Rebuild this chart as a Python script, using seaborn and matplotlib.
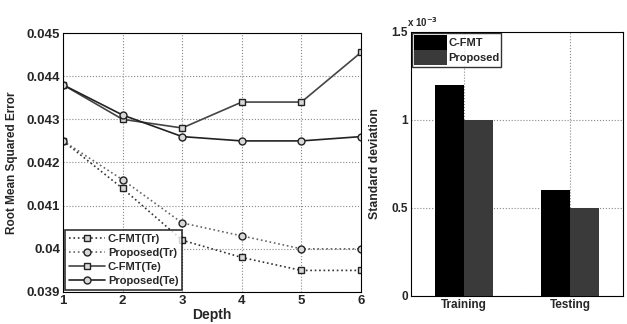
import matplotlib
matplotlib.use("Agg")
import matplotlib.pyplot as plt
import seaborn as sns
import pandas as pd
import numpy as np
from matplotlib.ticker import FuncFormatter

depth = [1, 2, 3, 4, 5, 6]
cfmt_tr = [0.0425, 0.0414, 0.0402, 0.0398, 0.0395, 0.0395]
prop_tr = [0.0425, 0.0416, 0.0406, 0.0403, 0.0400, 0.0400]
cfmt_te = [0.0438, 0.0430, 0.0428, 0.0434, 0.0434, 0.04455]
prop_te = [0.0438, 0.0431, 0.0426, 0.0425, 0.0425, 0.0426]

sets = ["Training", "Testing"]
std_cfmt = [1.2e-3, 0.6e-3]
std_prop = [1.0e-3, 0.5e-3]

sns.set_style("white")
plt.rcParams['font.family'] = ['Liberation Sans', 'DejaVu Sans']
plt.rcParams['font.weight'] = 'bold'

fig = plt.figure(figsize=(6.27, 3.24), dpi=100)
ax1 = fig.add_axes([63/627, 1 - 292/324, (361-63)/627, (292-33)/324])
ax2 = fig.add_axes([411/627, 1 - 296/324, (623-411)/627, (296-32)/324])

df = pd.DataFrame({
    "Depth": depth * 4,
    "RMSE": cfmt_tr + prop_tr + cfmt_te + prop_te,
    "Series": ["C-FMT(Tr)"] * 6 + ["Proposed(Tr)"] * 6 + ["C-FMT(Te)"] * 6 + ["Proposed(Te)"] * 6,
})
styles = {
    "C-FMT(Tr)": dict(ls=":", marker="s", color="#333333"),
    "Proposed(Tr)": dict(ls=":", marker="o", color="#666666"),
    "C-FMT(Te)": dict(ls="-", marker="s", color="#444444"),
    "Proposed(Te)": dict(ls="-", marker="o", color="#222222"),
}
for name, st in styles.items():
    sub = df[df.Series == name]
    sns.lineplot(data=sub, x="Depth", y="RMSE", ax=ax1, color=st["color"],
                 linestyle=st["ls"], marker=st["marker"], markersize=5,
                 markerfacecolor="#d8d8d8", markeredgecolor="#222222",
                 markeredgewidth=1.0, lw=1.2, label=name)
ax1.set_xlim(1, 6)
ax1.set_ylim(0.039, 0.045)
ax1.set_xticks(depth)
ax1.set_yticks([0.039, 0.040, 0.041, 0.042, 0.043, 0.044, 0.045])
ax1.yaxis.set_major_formatter(FuncFormatter(lambda v, p: f"{v:g}"))
ax1.grid(True, ls=":", color="#888888", lw=0.8)
ax1.set_xlabel("Depth", fontsize=10, fontweight="bold", labelpad=1)
ax1.set_ylabel("Root Mean Squared Error", fontsize=8.5, fontweight="bold", labelpad=6)
ax1.tick_params(labelsize=9.5, direction="in", length=3, pad=2)
leg = ax1.legend(loc="lower left", fontsize=8, frameon=True, fancybox=False,
                 edgecolor="black", handlelength=3.2, borderaxespad=0.2,
                 labelspacing=0.35, borderpad=0.35, handletextpad=0.3)
leg.get_frame().set_linewidth(1.2)
for s in ax1.spines.values():
    s.set_color("black")

df2 = pd.DataFrame({
    "Set": sets * 2,
    "Std": std_cfmt + std_prop,
    "Method": ["C-FMT"] * 2 + ["Proposed"] * 2,
})
sns.barplot(data=df2, x="Set", y="Std", hue="Method", ax=ax2,
            palette={"C-FMT": "#000000", "Proposed": "#3a3a3a"},
            width=0.55, saturation=1, edgecolor="none", zorder=3)
ax2.set_xlim(-0.5, 1.5)
ax2.set_ylim(0, 1.5e-3)
ax2.set_yticks([0, 0.5e-3, 1.0e-3, 1.5e-3])
ax2.yaxis.set_major_formatter(FuncFormatter(lambda v, p: f"{v*1e3:g}"))
ax2.grid(True, ls=":", color="#888888", lw=0.8, zorder=0)
ax2.set_axisbelow(True)
ax2.set_xlabel("")
ax2.set_ylabel("Standard deviation", fontsize=8.8, fontweight="bold", labelpad=8)
ax2.tick_params(labelsize=8.5, direction="in", length=3, pad=2)
ax2.text(-0.02, 1.01, r"x 10$^{-3}$", transform=ax2.transAxes, fontsize=7,
         ha="left", va="bottom")
leg2 = ax2.legend(loc="upper left", fontsize=8, frameon=True, fancybox=False,
                  edgecolor="black", handlelength=3.0, handleheight=1.7,
                  borderaxespad=0.1, labelspacing=0.05, borderpad=0.15,
                  handletextpad=0.1)
leg2.get_frame().set_linewidth(1.0)
for s in ax2.spines.values():
    s.set_color("black")

fig.savefig("out.png", dpi=100)
